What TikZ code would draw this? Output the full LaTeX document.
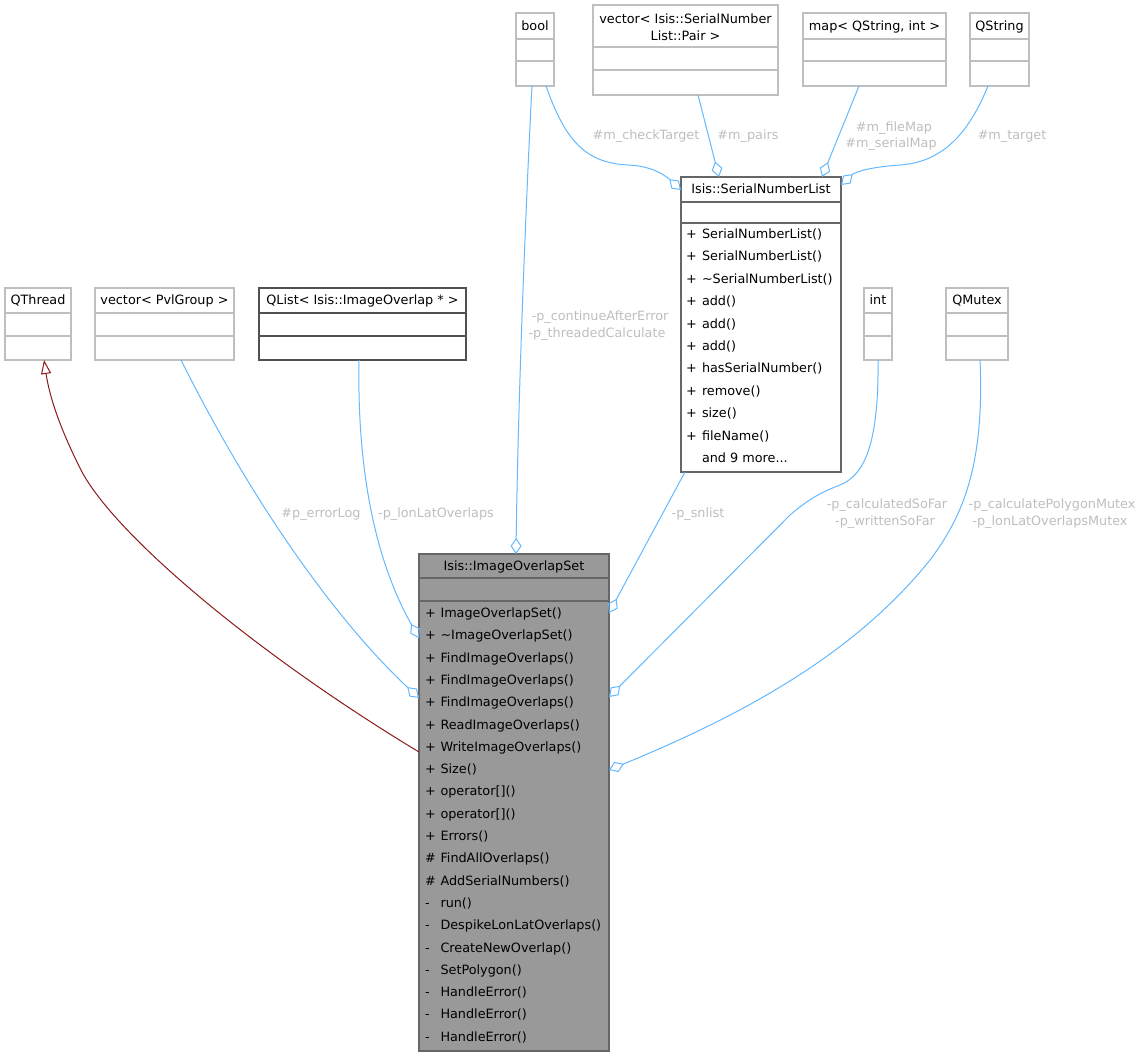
\documentclass[tikz,border=0pt]{standalone}
\usepackage{fontspec}
\setmainfont{DejaVu Sans}
\usetikzlibrary{arrows.meta}
\definecolor{edgeblue}{HTML}{63B8FF}
\definecolor{inhred}{HTML}{8B1A1A}
\definecolor{lightborder}{HTML}{BFBFBF}
\definecolor{darkborder}{HTML}{666666}
\definecolor{qlistborder}{HTML}{505050}
\definecolor{mainfill}{HTML}{999999}
\definecolor{lblgray}{HTML}{BEBEBE}
\newcommand\umlbox[8]{%
  \node[#8, anchor=north west, minimum width={(#4-#2)*1pt}, minimum height={(#5-#3)*1pt}] (#1) at (#2,#3) {};
  \draw[#8, fill=none] (#2,#6) -- (#4,#6) (#2,#7) -- (#4,#7);
}
\begin{document}
\begin{tikzpicture}[x=1pt,y=-1pt,
  every node/.style={font=\fontsize{12.8}{16}\selectfont, inner sep=0pt, outer sep=0pt},
  lightbox/.style={draw=lightborder, fill=white, line width=1.1pt},
  darkbox/.style={draw=darkborder, fill=white, line width=1.1pt},
  qlistbox/.style={draw=qlistborder, fill=white, line width=1.1pt},
  mainbox/.style={draw=darkborder, fill=mainfill, line width=1.1pt},
  ttl/.style={anchor=base},
  memb/.style={anchor=base west},
  lbl/.style={anchor=base, text=lblgray},
  agg/.style={draw=edgeblue, line width=1pt, -{Diamond[open,length=16pt,width=11pt]}},
  inh/.style={draw=inhred, line width=1pt, -{Triangle[open,length=14pt,width=10pt]}},
]
\useasboundingbox (0,0) rectangle (1144,1056);

% ---- boxes ----
\umlbox{qthread}{5}{288}{71}{360}{313}{336}{lightbox}
\umlbox{vpvl}{95}{288}{234}{360}{313}{336}{lightbox}
\umlbox{qlist}{259}{288}{466}{360}{313}{336}{qlistbox}
\umlbox{int}{864}{288}{892}{360}{313}{336}{lightbox}
\umlbox{qmutex}{946}{288}{1008}{360}{313}{336}{lightbox}
\umlbox{bool}{516}{13}{554}{86}{39}{61}{lightbox}
\umlbox{vpair}{593}{5}{778}{95}{47}{70}{lightbox}
\umlbox{map}{803}{13}{946}{86}{39}{61}{lightbox}
\umlbox{qstring}{970}{13}{1029}{86}{39}{61}{lightbox}
\umlbox{snl}{681}{177}{841}{472}{202}{223}{darkbox}
\umlbox{ios}{419}{554}{609}{1051}{578}{601}{mainbox}

% ---- titles ----
\node[ttl] (qthread-t) at (38,304.5) {QThread};
\node[ttl] (vpvl-t) at (164.5,304.5) {vector< PvlGroup >};
\node[ttl] (qlist-t) at (362.5,304.5) {QList< Isis::ImageOverlap * >};
\node[ttl] (int-t) at (878,304.5) {int};
\node[ttl] (qmutex-t) at (977,304.5) {QMutex};
\node[ttl] (bool-t) at (535,30.5) {bool};
\node[ttl] (vpair-t1) at (685.5,24) {vector< Isis::SerialNumber};
\node[ttl] (vpair-t2) at (685.5,40.5) {List::Pair >};
\node[ttl] (map-t) at (874.5,30.5) {map< QString, int >};
\node[ttl] (qstring-t) at (999.5,30.5) {QString};
\node[ttl] (snl-t) at (761,194) {Isis::SerialNumberList};
\node[ttl] (ios-t) at (514,570.5) {Isis::ImageOverlapSet};

% ---- members ----
\foreach \s/\t [count=\i from 0] in {+/SerialNumberList(), +/SerialNumberList(), +/\textasciitilde SerialNumberList(), +/add(), +/add(), +/add(), +/hasSerialNumber(), +/remove(), +/size(), +/fileName()}
  \node[memb] (snl-m\i) at (686,{238.5+22.4*\i}) {\makebox[16pt][l]{\s}\t};
\node[memb] (snl-more) at (702,462.5) {and 9 more...};

\foreach \s/\t [count=\i from 0] in {+/ImageOverlapSet(), +/\textasciitilde ImageOverlapSet(), +/FindImageOverlaps(), +/FindImageOverlaps(), +/FindImageOverlaps(), +/ReadImageOverlaps(), +/WriteImageOverlaps(), +/Size(), +/{operator[]()}, +/{operator[]()}, +/Errors(), \#/FindAllOverlaps(), \#/AddSerialNumbers(), -/run(), -/DespikeLonLatOverlaps(), -/CreateNewOverlap(), -/SetPolygon(), -/HandleError(), -/HandleError(), -/HandleError()}
  \node[memb] (ios-m\i) at (425,{617.5+22.3*\i}) {\makebox[15.5pt][l]{\s}\t};

% ---- edges ----
\draw[inh] (ios.west |- 0,752) .. controls (250,650) and (110,530) .. (80,468)
  .. controls (62,432) and (50,400) .. (qthread.south -| 44,0);
\draw[agg] (vpvl.south -| 181,0) .. controls (261,520) and (347,631) .. (ios.west |- 0,698);
\draw[agg] (qlist.south -| 359,0) .. controls (357,470) and (375,560) .. (ios.west |- 0,638);
\draw[agg] (bool.south -| 532,0) .. controls (526,200) and (518,400) .. (ios.north -| 516,0);
\draw[agg] (bool.south -| 546,0) .. controls (565,140) and (585,163) .. (628,165)
  .. controls (655,166) and (668,178) .. (snl.west |- 0,190);
\draw[agg] (vpair.south -| 698,0) -- (snl.north -| 719,0);
\draw[agg] (map.south -| 859,0) -- (snl.north -| 822,0);
\draw[agg] (qstring.south -| 988,0) .. controls (970,130) and (945,162) .. (900,165)
  .. controls (870,167) and (855,172) .. (snl.east |- 0,185);
\draw[agg] (snl.south -| 685,0) -- (ios.east |- 0,613);
\draw[agg] (int.south -| 878,0) .. controls (879,450) and (862,476) .. (840,485)
  .. controls (822,492) and (810,498) .. (790,515) -- (ios.east |- 0,697);
\draw[agg] (qmutex.south -| 980,0) .. controls (985,470) and (960,520) .. (930,560)
  .. controls (850,660) and (730,720) .. (ios.east |- 0,770);

% ---- edge labels ----
\node[lbl] (l-cont) at (600,320.5) {-p\_continueAfterError};
\node[lbl] (l-thr) at (597,337.5) {-p\_threadedCalculate};
\node[lbl] (l-check) at (646,139.5) {\#m\_checkTarget};
\node[lbl] (l-pairs) at (748,139.5) {\#m\_pairs};
\node[lbl] (l-file) at (894,131.5) {\#m\_fileMap};
\node[lbl] (l-serial) at (891,147.5) {\#m\_serialMap};
\node[lbl] (l-target) at (1012,139.5) {\#m\_target};
\node[lbl] (l-err) at (321,517.5) {\#p\_errorLog};
\node[lbl] (l-lonlat) at (436,517.5) {-p\_lonLatOverlaps};
\node[lbl] (l-snlist) at (698,517.5) {-p\_snlist};
\node[lbl] (l-calc) at (887,508.5) {-p\_calculatedSoFar};
\node[lbl] (l-written) at (885,525.5) {-p\_writtenSoFar};
\node[lbl] (l-cpm) at (1052,508.5) {-p\_calculatePolygonMutex};
\node[lbl] (l-llm) at (1050,525.5) {-p\_lonLatOverlapsMutex};
\end{tikzpicture}
\end{document}
